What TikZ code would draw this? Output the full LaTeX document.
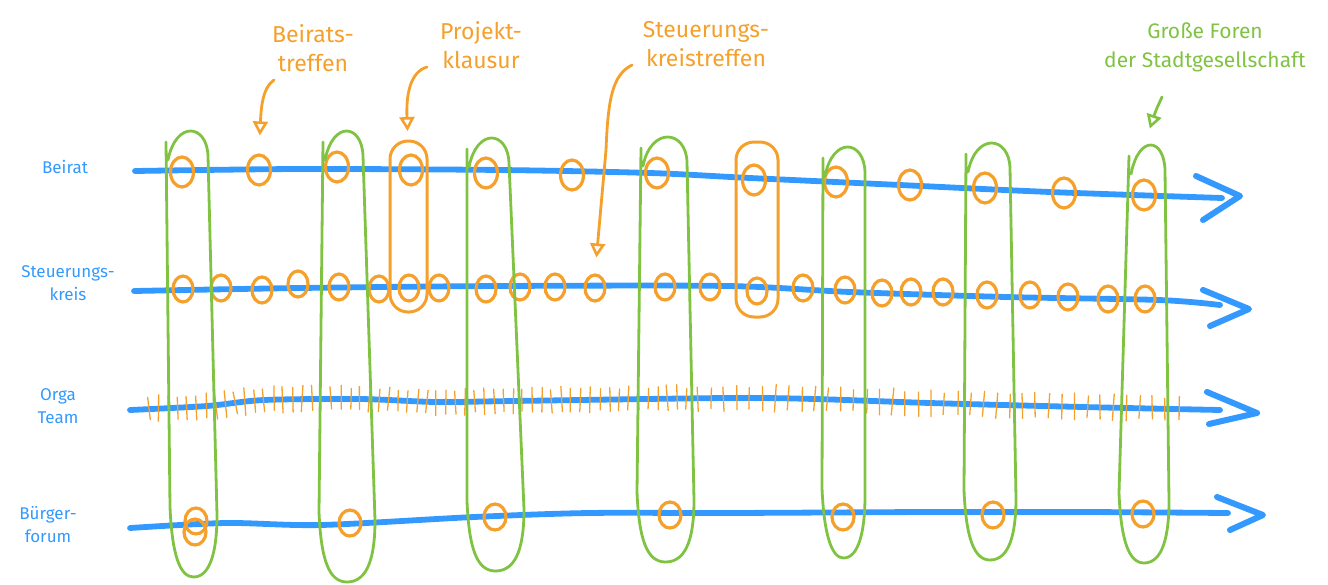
\documentclass[tikz,border=0pt]{standalone}
\usepackage{fontspec}
\setmainfont{Fira Sans}
\usetikzlibrary{arrows.meta,shapes.geometric,decorations.markings}
\definecolor{cblue}{HTML}{3399FF}
\definecolor{corange}{HTML}{F5A02A}
\definecolor{cgreen}{HTML}{80C342}
\newcommand\orgatick{%
  \pgfmathsetmacro\tdxa{2.2*rnd-1.1}%
  \pgfmathsetmacro\tdxb{2.2*rnd-1.1}%
  \pgfmathsetmacro\tya{-10-4*rnd}%
  \pgfmathsetmacro\tyb{10+4*rnd}%
  \draw[corange,line width=1.3pt,line cap=round] (\tdxa pt,\tya pt) -- (\tdxb pt,\tyb pt);}
\begin{document}
\begin{tikzpicture}[x=1pt,y=-1pt,
  timeline/.style={cblue,line width=5.8pt,line cap=round,line join=round},
  chevron/.style={cblue,line width=6pt,line cap=round,line join=round},
  ocirc/.style={ellipse,draw=corange,line width=3.2pt,minimum width=23pt,minimum height=30pt,inner sep=0pt},
  scirc/.style={ocirc,minimum width=20pt,minimum height=26pt},
  fcirc/.style={ocirc,minimum width=22pt,minimum height=26pt},
  gloop/.style={cgreen,line width=2.8pt,line cap=round,line join=round},
  oloop/.style={corange,line width=3pt,rounded corners=18pt},
  rowlabel/.style={text=cblue,font=\fontsize{17}{23}\selectfont,align=center,inner sep=0pt},
  toplabel/.style={text=corange,font=\fontsize{23}{29}\selectfont,align=center,inner sep=0pt},
  oarrow/.style={corange,line width=2.8pt,line cap=round,-{Triangle[open,length=14pt,width=15pt,line width=2.6pt]}},
  garrow/.style={cgreen,line width=2.8pt,line cap=round,-{Triangle[open,length=14pt,width=15pt,line width=2.6pt]}},
  orgaticks/.style={postaction={decorate,decoration={markings,
      mark=between positions 19pt and 560pt step 9.6pt with {\orgatick},
      mark=between positions 568pt and 1056pt step 13pt with {\orgatick}}}}
]
\useasboundingbox (0,0) rectangle (1328,584);
\pgfmathsetseed{7}

% row labels
\node[rowlabel] (lBeirat) at (65,167) {Beirat};
\node[rowlabel] (lSteuer) at (68,283) {Steuerungs-\\kreis};
\node[rowlabel] (lOrga) at (58,406) {Orga\\Team};
\node[rowlabel] (lBuerger) at (48,525) {Bürger-\\forum};

% timelines
\coordinate (t1) at (135,171);
\coordinate (t2) at (134,291);
\coordinate (t3) at (130,410);
\coordinate (t4) at (130,528);
\draw[timeline] plot[smooth,tension=0.5] coordinates {(t1) (300,169) (500,170) (650,173) (750,178) (900,185) (1050,192) (1222,198)};
\draw[chevron] (1196,176) -- (1240,196) -- (1203,220);
\draw[timeline] plot[smooth,tension=0.5] coordinates {(t2) (300,288) (500,286) (727,286) (850,292) (1006,297) (1159,300) (1220,305)};
\draw[chevron] (1203,290) -- (1249,309) -- (1210,326);
\draw[timeline,orgaticks] plot[smooth,tension=0.5] coordinates {(t3) (207,406) (264,400) (360,399) (436,402) (513,401) (727,398) (815,399) (930,403) (1083,407) (1220,410)};
\draw[chevron] (1207,392) -- (1257,413) -- (1209,424);
\draw[timeline] plot[smooth,tension=0.5] coordinates {(t4) (226,523) (321,525) (474,517) (589,513) (727,513) (930,512) (1083,512) (1228,513)};
\draw[chevron] (1217,497) -- (1263,515) -- (1230,530);

% Beirat circles
\foreach \x/\y [count=\i] in {182/172,259/170,337/167,411/170,486/173,572/175,657/173,754/180,836/182,910/185,985/188,1064/193,1144/195}
  \node[ocirc] (b\i) at (\x,\y) {};
% Steuerungskreis circles
\foreach \x/\y [count=\i] in {183/289,221/288,262/290,298/284,339/287,379/289,409/288,439/288,486/289,520/287,555/287,595/288,665/287,710/287,757/291,803/288,845/290,882/293,911/292,943/292,987/295,1030/295,1068/297,1108/299,1145/299}
  \node[scirc] (s\i) at (\x,\y) {};
% Buergerforum circles
\foreach \x/\y [count=\i] in {196/521,350/523,495/517,670/515,843/517,993/515,1143/514}
  \node[fcirc] (f\i) at (\x,\y) {};
\node[fcirc] (f1b) at (195,532) {};

% green loops (Grosse Foren)
\foreach \lt/\rt/\lb/\rb/\t/\b in {164/208/170/217/126/577, 321/363/319/375/126/582, 465/509/467/524/133/571, 639/687/637/694/132/562, 821/865/822/865/142/558, 964/1010/964/1016/138/560, 1127/1165/1119/1169/140/563}
  \draw[gloop] (\lt+2,\t+16) -- (\lb,\b-70) .. controls (\lb+2,\b-22) and (\lb+10,\b) .. ({(\lb+\rb)/2},\b)
     .. controls (\rb-6,\b) and (\rb,\b-28) .. (\rb,\b-62) -- (\rt,\t+30)
     .. controls (\rt-1,\t-2) and (\lt+12,\t-6) .. (\lt+4,\t+34);

% orange loops (Projektklausur)
\draw[oloop] (390,141) rectangle (427,312);
\draw[oloop] (736,142) rectangle (778,317);
\coordinate (p1top) at (408,141);
\coordinate (g7top) at (1146,140);

% top labels
\node[toplabel] (lblB) at (313,48) {Beirats-\\treffen};
\node[toplabel] (lblP) at (481,45) {Projekt-\\klausur};
\node[toplabel] (lblS) at (706,44) {Steuerungs-\\kreistreffen};
\node[toplabel,text=cgreen,font=\fontsize{21}{29}\selectfont] (lblG) at (1205,47) {Große Foren\\der Stadtgesellschaft};

% label arrows
\coordinate (aB) at (274,80);
\coordinate (aP) at (427,67);
\coordinate (aS) at (632,65);
\coordinate (sMid) at (606,150);
\coordinate (aG) at (1162,97);
\draw[oarrow,shorten >=18pt] (aB) .. controls (262,88) and (261,110) .. (b2.north);
\draw[oarrow,shorten >=10pt] (aP) .. controls (410,72) and (406,95) .. (p1top);
\draw[oarrow,shorten >=16pt] (aS) .. controls (612,75) and (608,100) .. (sMid) -- (s12.north);
\draw[garrow,shorten >=12pt] (aG) .. controls (1156,110) .. (g7top);
\end{tikzpicture}
\end{document}
